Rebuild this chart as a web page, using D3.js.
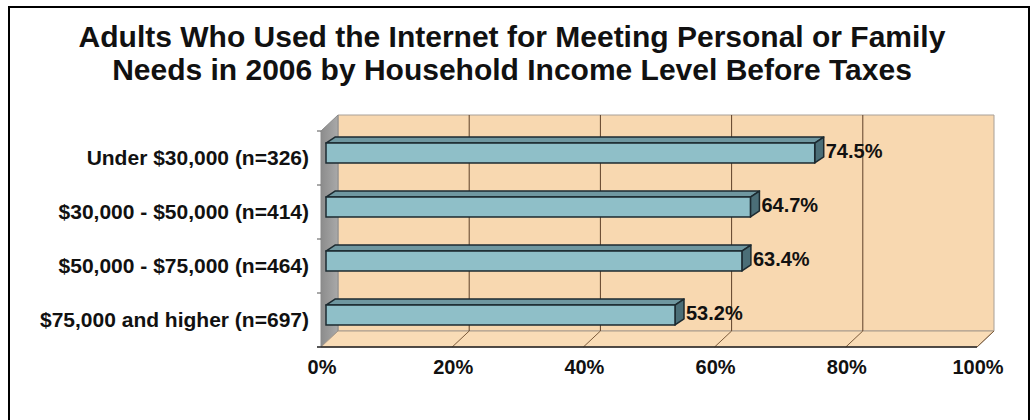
<!DOCTYPE html>
<html>
<head>
<meta charset="utf-8">
<script src="https://cdn.jsdelivr.net/npm/d3@7"></script>
<style>
  body { margin: 0; background: #fff; }
  text { font-family: "Liberation Sans", Arial, sans-serif; font-weight: bold; fill: #111; }
</style>
</head>
<body>
<div id="chart"></div>
<script>
// data
const titleLines = ["Adults Who Used the Internet for Meeting Personal or Family",
                    "Needs in 2006 by Household Income Level Before Taxes"];
const categories = ["Under $30,000 (n=326)", "$30,000 - $50,000 (n=414)",
                    "$50,000 - $75,000 (n=464)", "$75,000 and higher (n=697)"];
const values = [74.5, 64.7, 63.4, 53.2];
const ticks = [0, 20, 40, 60, 80, 100];

const width = 1036, height = 420;
const svg = d3.select("#chart").append("svg")
    .attr("width", width)
    .attr("height", height);

// frame
svg.append("rect")
    .attr("x", 9).attr("y", 7)
    .attr("width", 1020).attr("height", 440)
    .attr("fill", "none").attr("stroke", "#000").attr("stroke-width", 2);

// title
svg.selectAll(".title").data(titleLines).enter().append("text")
    .attr("class", "title")
    .attr("x", 512)
    .attr("y", (d, i) => 47 + i * 33)
    .attr("text-anchor", "middle")
    .style("font-size", "30px")
    .text(d => d);

// front plane of the 3d box, plus a depth offset
let plotLeft = 321, plotRight = 977, plotTop = 131, plotBottom = 347;
let DX = 17, DY = -16;

let xScale = d3.scaleLinear().domain([0, 100]).range([plotLeft, plotRight]);
let yScale = d3.scaleBand().domain(categories).range([plotTop, plotBottom]).paddingInner(0.63).paddingOuter(0.315);
let band = d3.scaleBand().domain(categories).range([plotTop, plotBottom]);

let pts = p => p.map(q => q.join(",")).join(" ");

// back wall
svg.append("polygon")
    .attr("points", pts([[plotLeft + DX, plotTop + DY], [plotRight + DX, plotTop + DY], [plotRight + DX, plotBottom + DY], [plotLeft + DX, plotBottom + DY]]))
    .attr("fill", "#f8d8b0").attr("stroke", "#a8a098").attr("stroke-width", 1);

// left wall
let grad = svg.append("defs").append("linearGradient").attr("id", "wallGrad")
    .attr("x1", "0").attr("x2", "1").attr("y1", "0").attr("y2", "0");
grad.append("stop").attr("offset", "0%").attr("stop-color", "#8c8c8c");
grad.append("stop").attr("offset", "100%").attr("stop-color", "#a9a9a9");
svg.append("polygon")
    .attr("points", pts([[plotLeft, plotTop], [plotLeft + DX, plotTop + DY], [plotLeft + DX, plotBottom + DY], [plotLeft, plotBottom]]))
    .attr("fill", "url(#wallGrad)").attr("stroke", "#8a8a8a").attr("stroke-width", 1);

// floor
svg.append("polygon")
    .attr("points", pts([[plotLeft, plotBottom], [plotRight, plotBottom], [plotRight + DX, plotBottom + DY], [plotLeft + DX, plotBottom + DY]]))
    .attr("fill", "#f9dcb6").attr("stroke", "#a89a8a").attr("stroke-width", 1);

// gridlines on back wall and floor
let inner = ticks.filter(t => t > 0 && t < 100);
svg.selectAll(".grid").data(inner).enter().append("line")
    .attr("class", "grid")
    .attr("x1", d => xScale(d) + DX).attr("x2", d => xScale(d) + DX)
    .attr("y1", plotTop + DY).attr("y2", plotBottom + DY)
    .attr("stroke", "#5e4028").attr("stroke-width", 1);
svg.selectAll(".floorGrid").data(ticks.filter(t => t > 0)).enter().append("line")
    .attr("class", "floorGrid")
    .attr("x1", d => xScale(d)).attr("x2", d => xScale(d) + DX)
    .attr("y1", plotBottom).attr("y2", plotBottom + DY)
    .attr("stroke", "#7a5a3a").attr("stroke-width", 1);

// axes lines and ticks
svg.append("line")
    .attr("x1", plotLeft - 4).attr("x2", plotRight).attr("y1", plotBottom).attr("y2", plotBottom)
    .attr("stroke", "#222").attr("stroke-width", 1.5);
svg.selectAll(".ytick").data(categories.concat(["end"])).enter().append("line")
    .attr("class", "ytick")
    .attr("x1", plotLeft - 4).attr("x2", plotLeft)
    .attr("y1", d => d === "end" ? plotBottom : band(d))
    .attr("y2", d => d === "end" ? plotBottom : band(d))
    .attr("stroke", "#555").attr("stroke-width", 1);

// bars with a little depth of their own
let bx = 5, by = -5, bdx = 9, bdy = -6;
let bars = svg.selectAll(".bar").data(values).enter().append("g").attr("class", "bar");
bars.each(function (d, i) {
    let g = d3.select(this);
    let x0 = xScale(0) + bx, x1 = xScale(d) + bx;
    let y0 = yScale(categories[i]) + by, y1 = y0 + yScale.bandwidth();
    // top face
    g.append("polygon")
        .attr("points", pts([[x0, y0], [x1, y0], [x1 + bdx, y0 + bdy], [x0 + bdx, y0 + bdy]]))
        .attr("fill", "#6f97a0").attr("stroke", "#1c2a30").attr("stroke-width", 1.5).attr("stroke-linejoin", "round");
    // side face
    g.append("polygon")
        .attr("points", pts([[x1, y0], [x1 + bdx, y0 + bdy], [x1 + bdx, y1 + bdy], [x1, y1]]))
        .attr("fill", "#4b6e77").attr("stroke", "#1c2a30").attr("stroke-width", 1.5).attr("stroke-linejoin", "round");
    // front face
    g.append("rect")
        .attr("x", x0).attr("y", y0)
        .attr("width", x1 - x0).attr("height", y1 - y0)
        .attr("fill", "#8fbfc8").attr("stroke", "#1c2a30").attr("stroke-width", 1.5);
    // value label
    g.append("text")
        .attr("x", x1 + bdx + 2)
        .attr("y", (y0 + y1) / 2 + 5)
        .style("font-size", "20px")
        .text(d.toFixed(1) + "%");
});

// category labels
svg.selectAll(".cat").data(categories).enter().append("text")
    .attr("class", "cat")
    .attr("x", 309)
    .attr("y", d => band(d) + band.bandwidth() / 2 + 7)
    .attr("text-anchor", "end")
    .style("font-size", "21px")
    .text(d => d);

// x tick labels
svg.selectAll(".xlab").data(ticks).enter().append("text")
    .attr("class", "xlab")
    .attr("x", d => xScale(d) + 1)
    .attr("y", 374)
    .attr("text-anchor", "middle")
    .style("font-size", "20px")
    .text(d => d + "%");
</script>
</body>
</html>
